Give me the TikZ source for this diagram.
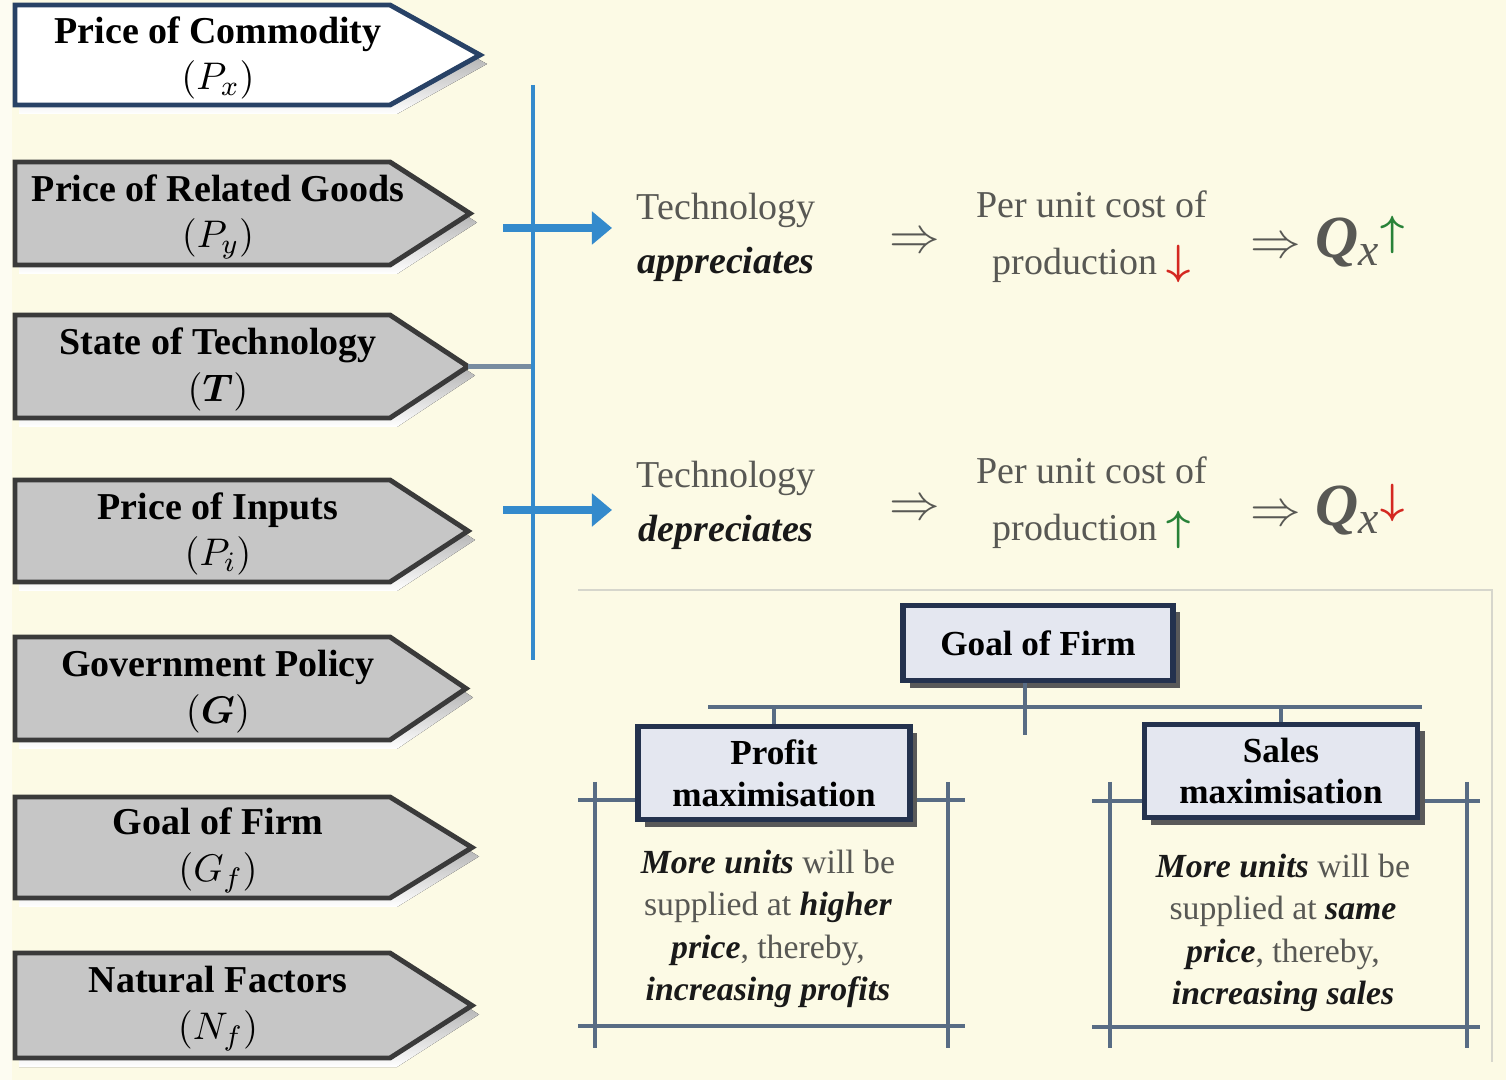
\documentclass[tikz,border=0pt]{standalone}
\usepackage{amsmath}
\usepackage{fontspec}
\setmainfont{Liberation Serif}
\usetikzlibrary{arrows.meta,shadows}

\definecolor{bg}{RGB}{252,250,229}
\definecolor{navy}{RGB}{40,66,102}
\definecolor{darkrim}{RGB}{58,58,58}
\definecolor{arrowgray}{RGB}{198,198,198}
\definecolor{shade}{RGB}{92,92,92}
\definecolor{techblue}{RGB}{52,138,204}
\definecolor{stubgray}{RGB}{120,140,160}
\definecolor{txtgray}{RGB}{88,88,84}
\definecolor{slate}{RGB}{88,108,132}
\definecolor{boxfill}{RGB}{228,231,240}
\definecolor{boxrim}{RGB}{36,50,78}
\definecolor{downred}{RGB}{212,40,32}
\definecolor{upgreen}{RGB}{40,130,56}
\definecolor{panelrim}{RGB}{214,214,204}

\newcommand{\emphbi}[1]{\textcolor{black!90}{\textbf{\textit{#1}}}}
\newcommand{\symb}[1]{\mdseries$(#1)$}

% One pentagon-shaped factor: #1 name, #2 top y, #3 bottom y, #4 tip x,
% #5 fill, #6 rim colour, #7 label
\newcommand{\factorshape}[7]{%
  \pgfmathsetmacro{\ymid}{(#2+#3)/2}%
  \fill[shade] (19,#2+9) -- (397,#2+9) -- (#4+7,\ymid+9) -- (397,#3+9) -- (19,#3+9) -- cycle;
  \filldraw[fill=#5, draw=#6, line width=1.4pt, line join=miter]
    (15,#2) -- (390,#2) -- (#4,\ymid) -- (390,#3) -- (15,#3) -- cycle;
  \node[factorlabel] (#1) at (218,\ymid+3) {#7};
  \coordinate (#1tip) at (#4,\ymid);
}

\begin{document}
\begin{tikzpicture}[x=0.01cm, y=-0.01cm,
  factorlabel/.style={align=center, inner sep=0pt, text=black,
    font=\fontsize{10.8}{13.2}\selectfont\bfseries},
  techline/.style={draw=techblue, line width=1pt},
  stubline/.style={draw=stubgray, line width=1.2pt},
  techarrow/.style={draw=techblue, line width=2.3pt,
    -{Triangle[length=0.2cm, width=0.32cm]}},
  effect/.style={align=center, text=txtgray, inner sep=0pt,
    font=\fontsize{10.8}{15.4}\selectfont},
  implies/.style={text=txtgray, inner sep=0pt, font=\fontsize{15}{15}\selectfont},
  goalbox/.style={draw=boxrim, fill=boxfill, line width=1.6pt, align=center,
    inner sep=0pt, font=\fontsize{10}{11.9}\selectfont\bfseries,
    drop shadow={shadow xshift=0.07cm, shadow yshift=-0.07cm, opacity=1, fill=gray!70!black}},
  treeline/.style={draw=slate, line width=0.9pt},
  treebar/.style={draw=slate, line width=1.4pt},
  bodytext/.style={align=center, text=txtgray, inner sep=0pt,
    font=\fontsize{9.6}{12.1}\selectfont}
]
\useasboundingbox (0,0) rectangle (1506,1080);
\fill[bg] (0,0) rectangle (1506,1080);
\fill[white, opacity=0.5] (0,0) rectangle (12,1080);

% ---- factors of supply ----
\factorshape{px}{5}{105}{480}{white}{navy}{Price of Commodity\\ \symb{P_x}}
\factorshape{py}{162}{265}{470}{arrowgray}{darkrim}{Price of Related Goods\\ \symb{P_y}}
\factorshape{tech}{315}{418}{468}{arrowgray}{darkrim}{State of Technology\\ $(\boldsymbol{T})$}
\factorshape{pin}{480}{582}{468}{arrowgray}{darkrim}{Price of Inputs\\ \symb{P_i}}
\factorshape{gov}{637}{740}{466}{arrowgray}{darkrim}{Government Policy\\ $(\boldsymbol{G})$}
\factorshape{goalf}{797}{898}{472}{arrowgray}{darkrim}{Goal of Firm\\ \symb{G_f}}
\factorshape{nat}{953}{1058}{472}{arrowgray}{darkrim}{Natural Factors\\ \symb{N_f}}

% ---- state of technology branches ----
\coordinate (vtop) at (533,85);
\coordinate (vbot) at (533,660);
\draw[stubline] (techtip) -- (techtip -| vtop);
\draw[techline] (vtop) -- (vbot);

\node[effect, anchor=west, inner xsep=0.24cm] (up) at (612,237)
  {Technology\\ \emphbi{appreciates}};
\node[effect, anchor=west, inner xsep=0.24cm] (down) at (612,505)
  {Technology\\ \emphbi{depreciates}};
\coordinate (upstart) at (503,228);
\coordinate (downstart) at (503,510);
\draw[techarrow] (upstart) -- (up.west |- upstart);
\draw[techarrow] (downstart) -- (down.west |- downstart);

\node[implies] (imp1) at (915,243) {$\Rightarrow$};
\node[implies] (imp2) at (915,510) {$\Rightarrow$};

\node[effect, font=\fontsize{10.8}{16.2}\selectfont] (cost1) at (1092,237)
  {Per unit cost of\\ production \textcolor{downred}{\fontsize{13}{13}\selectfont$\boldsymbol{\downarrow}$}};
\node[effect, font=\fontsize{10.8}{16.2}\selectfont] (cost2) at (1092,503)
  {Per unit cost of\\ production \textcolor{upgreen}{\fontsize{13}{13}\selectfont$\boldsymbol{\uparrow}$}};

\node[implies, anchor=west] (qx1) at (1250,242)
  {$\Rightarrow$\hspace{0.14cm}{\fontsize{17}{17}\selectfont\textbf{\textit{Q}}}\textsubscript{\fontsize{13}{13}\selectfont\textit{x}}\raisebox{0.12cm}{\fontsize{13}{13}\selectfont\textcolor{upgreen}{$\boldsymbol{\uparrow}$}}};
\node[implies, anchor=west] (qx2) at (1250,510)
  {$\Rightarrow$\hspace{0.14cm}{\fontsize{17}{17}\selectfont\textbf{\textit{Q}}}\textsubscript{\fontsize{13}{13}\selectfont\textit{x}}\raisebox{0.12cm}{\fontsize{13}{13}\selectfont\textcolor{downred}{$\boldsymbol{\downarrow}$}}};

% ---- goal of firm panel ----
\draw[panelrim, line width=0.8pt] (578,590) -- (1492,590) -- (1492,1062);

% frames around the two outcomes
\draw[treeline] (595,782) -- (595,1048);
\draw[treeline] (948,782) -- (948,1048);
\draw[treebar] (578,800) -- (965,800);
\draw[treebar] (578,1026) -- (965,1026);
\draw[treeline] (1110,782) -- (1110,1048);
\draw[treeline] (1467,782) -- (1467,1048);
\draw[treebar] (1092,801) -- (1480,801);
\draw[treebar] (1092,1027) -- (1480,1027);

\node[goalbox, minimum width=2.7cm, minimum height=0.75cm] (goal) at (1038,643) {Goal of Firm};
\node[goalbox, minimum width=2.72cm, minimum height=0.93cm] (profit) at (774,773) {Profit\\ maximisation};
\node[goalbox, minimum width=2.73cm, minimum height=0.93cm] (sales) at (1281,771) {Sales\\ maximisation};

\coordinate (barL) at (708,707);
\coordinate (barR) at (1422,707);
\coordinate (stem) at (1025,735);
\draw[treebar] (barL) -- (barR);
\draw[treeline] (goal.south -| stem) -- (stem);
\draw[treeline] (profit.north |- barL) -- (profit.north);
\draw[treeline] (sales.north |- barL) -- (sales.north);

\node[bodytext] (profittext) at (768,929)
  {\emphbi{More units} will be\\ supplied at \emphbi{higher}\\ \emphbi{price}, thereby,\\ \emphbi{increasing profits}};
\node[bodytext] (salestext) at (1283,933)
  {\emphbi{More units} will be\\ supplied at \emphbi{same}\\ \emphbi{price}, thereby,\\ \emphbi{increasing sales}};
\end{tikzpicture}
\end{document}
